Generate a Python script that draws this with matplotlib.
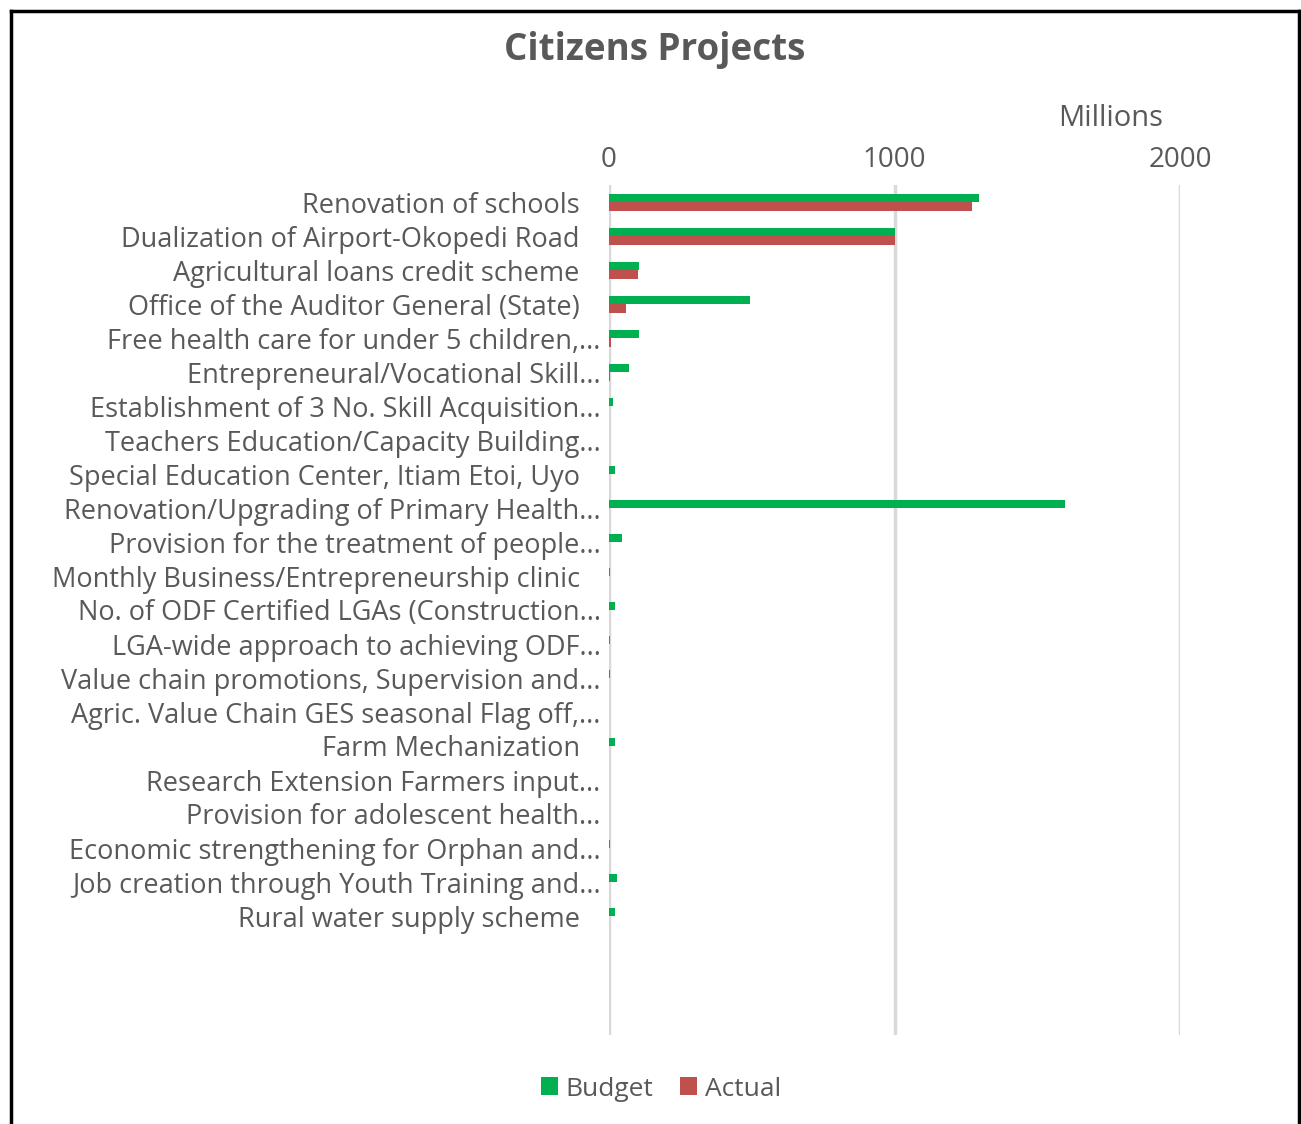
import matplotlib.pyplot as plt
from matplotlib.lines import Line2D
import numpy as np

projects = [
    "Renovation of schools",
    "Dualization of Airport-Okopedi Road",
    "Agricultural loans credit scheme",
    "Office of the Auditor General (State)",
    "Free health care for under 5 children,...",
    "Entrepreneural/Vocational Skill...",
    "Establishment of 3 No. Skill Acquisition...",
    "Teachers Education/Capacity Building...",
    "Special Education Center, Itiam Etoi, Uyo",
    "Renovation/Upgrading of Primary Health...",
    "Provision for the treatment of people...",
    "Monthly Business/Entrepreneurship clinic",
    "No. of ODF Certified LGAs (Construction...",
    "LGA-wide approach to achieving ODF...",
    "Value chain promotions, Supervision and...",
    "Agric. Value Chain GES seasonal Flag off,...",
    "Farm Mechanization",
    "Research Extension Farmers input...",
    "Provision for adolescent health...",
    "Economic strengthening for Orphan and...",
    "Job creation through Youth Training and...",
    "Rural water supply scheme",
]
# values in millions
budget = [1295, 1000, 105, 495, 105, 70, 15, 0, 22, 1598, 47, 5, 22, 5, 5, 0, 22, 0, 0, 5, 28, 22]
actual = [1270, 1000, 100, 58, 8, 5, 0, 0, 0, 0, 0, 0, 0, 0, 0, 0, 0, 0, 0, 0, 0, 0]

GREEN = "#00B050"
RED = "#C0504D"
TEXT = "#595959"
FONT = "Open Sans"

fig = plt.figure(figsize=(13.01, 11.24), dpi=100)
ax = fig.add_axes([609 / 1301, 1 - 1035 / 1124, (1180 - 609) / 1301, (1035 - 185) / 1124])

y = np.arange(len(projects))
h = 0.25
ax.barh(y - h / 2, budget, height=h, color=GREEN, label="Budget")
ax.barh(y + h / 2, actual, height=h, color=RED, label="Actual")

ax.set_xlim(0, 2000)
ax.set_ylim(24.5, -0.5)
ax.set_xticks([0, 1000, 2000])
ax.xaxis.tick_top()
ax.tick_params(axis="x", length=0, pad=8, labelsize=20, labelcolor=TEXT)
for lbl in ax.get_xticklabels():
    lbl.set_fontfamily(FONT)

# labels cut with "..." sit a little further right
labels = [p if p.endswith("...") else p + "   " for p in projects]
ax.set_yticks(y)
ax.set_yticklabels(labels, fontsize=19.5, color=TEXT, fontfamily=FONT)
ax.tick_params(axis="y", length=0, pad=6)

ax.grid(axis="x", color="#D9D9D9", linewidth=2.5)
ax.set_axisbelow(True)
for s in ax.spines.values():
    s.set_visible(False)

fig.text(1111 / 1301, 1 - 119 / 1124, "Millions", ha="center", va="center",
         fontsize=21, color=TEXT, fontfamily=FONT)
fig.text(655 / 1301, 1 - 50 / 1124, "Citizens Projects", ha="center", va="center",
         fontsize=26.5, fontweight="bold", color=TEXT, fontfamily=FONT)

fig.legend(loc="center", bbox_to_anchor=(661 / 1301, 1 - 1089 / 1124), ncol=2, frameon=False,
           prop={"family": FONT, "size": 19}, labelcolor=TEXT, handlelength=0.65, handleheight=0.65,
           handletextpad=0.3, columnspacing=1.0)

# outer frame (left, top, right)
for xs, ys in [((11, 11), (0, 1124 - 11)), ((11, 1299), (1124 - 11, 1124 - 11)), ((1299, 1299), (1124 - 11, 0))]:
    fig.add_artist(Line2D([xs[0] / 1301, xs[1] / 1301], [ys[0] / 1124, ys[1] / 1124],
                          transform=fig.transFigure, color="black", linewidth=2.5))

fig.savefig("out.png", dpi=100)
